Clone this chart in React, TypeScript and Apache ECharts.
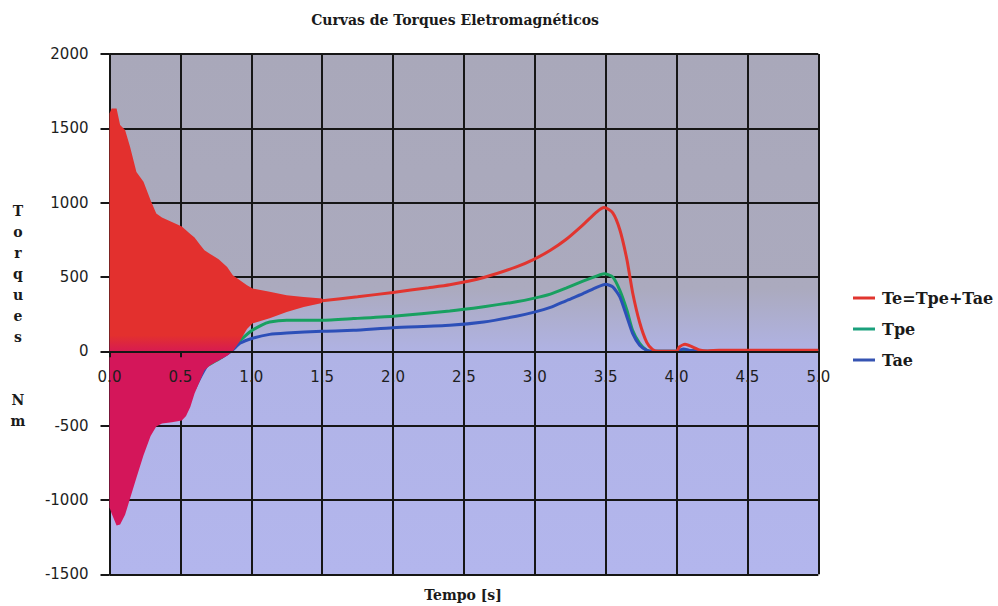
import React, { useEffect, useRef } from "react";
import * as echarts from "echarts";

// Envelope of the starting transient of Te (time in s, torque in Nm)
const envT = [
  0.0, 0.015, 0.05, 0.075, 0.11, 0.145, 0.19, 0.24, 0.29, 0.33, 0.37, 0.44, 0.51, 0.54, 0.57, 0.6,
  0.64, 0.67, 0.71, 0.77, 0.83, 0.87, 0.92, 0.97, 1.01, 1.13, 1.25, 1.37, 1.5,
];
const envUpper = [
  1600, 1634, 1634, 1522, 1488, 1376, 1207, 1140, 1017, 927, 900, 870, 840, 815, 790, 765,
  715, 680, 655, 620, 568, 512, 478, 444, 422, 400, 377, 366, 355,
];
const envLower = [
  -1050, -1091, -1172, -1165, -1100, -990, -850, -700, -570, -505, -485, -478, -465, -435, -375, -283,
  -195, -128, -94, -61, -30, 0, 70, 150, 188, 222, 265, 298, 325,
];

// Te = Tpe + Tae after the transient
const teT = [
  1.5, 1.75, 2.0, 2.25, 2.4, 2.64, 2.87, 2.99, 3.11, 3.22, 3.34, 3.44, 3.49, 3.55, 3.6, 3.65,
  3.69, 3.74, 3.79, 3.83, 3.87, 4.0, 4.02, 4.06, 4.1, 4.16, 4.22, 4.3, 4.6, 5.0,
];
const teV = [
  340, 367, 396, 428, 448, 497, 568, 617, 680, 752, 851, 940, 967, 932, 818, 617,
  396, 194, 60, 13, 0, 0, 30, 47, 35, 10, 2, 8, 8, 8,
];

// Tpe
const tpeT = [
  0.6, 0.67, 0.72, 0.8, 0.9, 0.99, 1.07, 1.13, 1.25, 1.5, 1.72, 2.0, 2.4, 2.64, 2.87, 2.99,
  3.11, 3.22, 3.34, 3.44, 3.49, 3.55, 3.6, 3.65, 3.69, 3.74, 3.79, 3.83, 4.0, 4.05, 4.1, 4.2, 5.0,
];
const tpeV = [
  -250, -110, -80, -35, 54, 130, 175, 197, 209, 209, 220, 236, 271, 300, 333, 356,
  385, 425, 472, 508, 522, 500, 410, 276, 141, 54, 7, 0, 0, 10, 5, 0, 0,
];

// Tae
const taeT = [
  0.6, 0.7, 0.8, 0.87, 0.92, 1.01, 1.13, 1.25, 1.5, 1.72, 2.0, 2.4, 2.64, 2.87, 2.99, 3.11,
  3.22, 3.34, 3.44, 3.5, 3.55, 3.6, 3.65, 3.69, 3.74, 3.79, 3.83, 4.0, 4.05, 4.1, 4.2, 5.0,
];
const taeV = [
  -250, -80, -35, 10, 54, 88, 114, 123, 135, 141, 159, 175, 197, 236, 262, 295,
  340, 388, 432, 451, 433, 366, 231, 121, 40, 7, 0, 0, 15, 5, 0, 0,
];

const TE_NAME = "Te=Tpe+Tae";
const TPE_NAME = "Tpe";
const TAE_NAME = "Tae";

const Y_MIN = -1500;
const Y_MAX = 2000;

const RED = "#e1352f";
const GREEN = "#18a060";
const BLUE = "#2c4fb8";
const INK = "#161616";

const GRID_TOP = 54;
const GRID_BOTTOM = 31.7;

const pairs = (ts: number[], vs: number[]) => ts.map((t, i) => [t, vs[i]]);

export default function App() {
  const ref = useRef<HTMLDivElement>(null);

  useEffect(() => {
    if (!ref.current) return;
    const chart = echarts.init(ref.current, null, { renderer: "svg" });

    // the time axis sits on the zero torque line: shift it up from the grid bottom
    const plotH = chart.getHeight() - GRID_TOP - GRID_BOTTOM;
    const zeroOffset = -plotH * (0 - Y_MIN) / (Y_MAX - Y_MIN);

    const gridLine = { color: INK, width: 2 };
    const plotBg = new echarts.graphic.LinearGradient(0, 0, 0, 1, [
      { offset: 0, color: "#a9a8ba" },
      { offset: 0.45, color: "#abaabe" },
      { offset: 0.58, color: "#b0b3e6" },
      { offset: 1, color: "#b3b6ed" },
    ]);

    chart.setOption({
      animation: false,
      backgroundColor: "#ffffff",
      grid: {
        left: 109.5,
        right: 179.7,
        top: GRID_TOP,
        bottom: GRID_BOTTOM,
        show: true,
        backgroundColor: plotBg,
        borderWidth: 0,
      },
      graphic: [
        {
          type: "text",
          x: 455,
          y: 20,
          style: {
            text: "Curvas de Torques Eletromagnéticos",
            align: "center",
            verticalAlign: "middle",
            fontFamily: "DejaVu Serif",
            fontWeight: "bold",
            fontSize: 14,
            fill: "#1a1a1a",
          },
        },
        {
          type: "text",
          x: 18,
          y: 316,
          style: {
            text: "T\no\nr\nq\nu\ne\ns\n\n\nN\nm",
            align: "center",
            verticalAlign: "middle",
            lineHeight: 21,
            fontFamily: "DejaVu Serif",
            fontWeight: "bold",
            fontSize: 14,
            fill: "#1a1a1a",
          },
        },
        {
          type: "text",
          x: 463,
          y: 595,
          style: {
            text: "Tempo [s]",
            align: "center",
            verticalAlign: "middle",
            fontFamily: "DejaVu Serif",
            fontWeight: "bold",
            fontSize: 14,
            fill: "#1a1a1a",
          },
        },
      ],
      legend: {
        orient: "vertical",
        left: 853,
        top: 290,
        padding: 0,
        itemWidth: 22,
        itemHeight: 3,
        itemGap: 15,
        icon: "rect",
        selectedMode: false,
        textStyle: {
          fontFamily: "DejaVu Serif",
          fontWeight: "bold",
          fontSize: 16,
          color: "#1a1a1a",
          padding: [0, 0, 0, 2],
        },
        data: [
          { name: TE_NAME, itemStyle: { color: RED } },
          { name: TPE_NAME, itemStyle: { color: "#1aa07c" } },
          { name: TAE_NAME, itemStyle: { color: "#3654b2" } },
        ],
      },
      xAxis: [
        {
          // grid lines only, beneath the curves
          type: "value",
          min: 0,
          max: 5,
          interval: 0.5,
          position: "bottom",
          axisLine: { show: false, onZero: false },
          axisTick: { show: false },
          axisLabel: { show: false },
          splitLine: { show: true, lineStyle: gridLine },
        },
        {
          // zero axis with its labels, above the curves
          type: "value",
          min: 0,
          max: 5,
          interval: 0.5,
          position: "bottom",
          offset: zeroOffset,
          z: 6,
          axisLine: { show: true, onZero: false, lineStyle: gridLine },
          axisTick: { show: true, length: 6, lineStyle: gridLine },
          axisLabel: {
            margin: 18,
            formatter: (v: number) => v.toFixed(1),
            fontFamily: "DejaVu Sans",
            fontSize: 15,
            color: "#1e1e1e",
          },
          splitLine: { show: false },
        },
      ],
      yAxis: [
        {
          type: "value",
          min: Y_MIN,
          max: Y_MAX,
          interval: 500,
          axisLine: { show: true, onZero: false, lineStyle: gridLine },
          axisTick: { show: true, length: 9, lineStyle: gridLine },
          axisLabel: {
            margin: 21,
            formatter: (v: number) => String(v),
            fontFamily: "DejaVu Sans",
            fontSize: 15,
            color: "#1e1e1e",
          },
          splitLine: { show: true, lineStyle: gridLine },
        },
      ],
      series: [
        {
          name: TPE_NAME,
          type: "line",
          xAxisIndex: 0,
          yAxisIndex: 0,
          data: pairs(tpeT, tpeV),
          showSymbol: false,
          symbol: "none",
          smooth: 0.2,
          lineStyle: { color: GREEN, width: 3 },
          z: 2,
        },
        {
          name: TAE_NAME,
          type: "line",
          xAxisIndex: 0,
          yAxisIndex: 0,
          data: pairs(taeT, taeV),
          showSymbol: false,
          symbol: "none",
          smooth: 0.2,
          lineStyle: { color: BLUE, width: 3 },
          z: 2,
        },
        {
          // oscillating start of Te, filled between its upper and lower envelopes
          name: TE_NAME,
          type: "custom",
          coordinateSystem: "cartesian2d",
          xAxisIndex: 0,
          yAxisIndex: 0,
          clip: true,
          z: 3,
          data: [[0, 0]],
          renderItem: (_params: any, api: any) => {
            const pts: number[][] = [];
            envT.forEach((t, i) => pts.push(api.coord([t, envUpper[i]])));
            for (let i = envT.length - 1; i >= 0; i--) pts.push(api.coord([envT[i], envLower[i]]));
            const y0 = api.coord([0, 0])[1];
            return {
              type: "polygon",
              shape: { points: pts },
              style: {
                fill: new echarts.graphic.LinearGradient(
                  0,
                  y0 - 16,
                  0,
                  y0 + 4,
                  [
                    { offset: 0, color: "#e3302e" },
                    { offset: 1, color: "#d4165a" },
                  ],
                  true
                ),
              },
            };
          },
        },
        {
          name: TE_NAME,
          type: "line",
          xAxisIndex: 0,
          yAxisIndex: 0,
          data: pairs(teT, teV),
          showSymbol: false,
          symbol: "none",
          smooth: 0.2,
          lineStyle: { color: RED, width: 3 },
          z: 3,
        },
      ],
    });

    return () => chart.dispose();
  }, []);

  return (
    <div
      ref={ref}
      style={{ position: "fixed", left: 0, top: 0, width: 998, height: 606, background: "#ffffff" }}
    />
  );
}
